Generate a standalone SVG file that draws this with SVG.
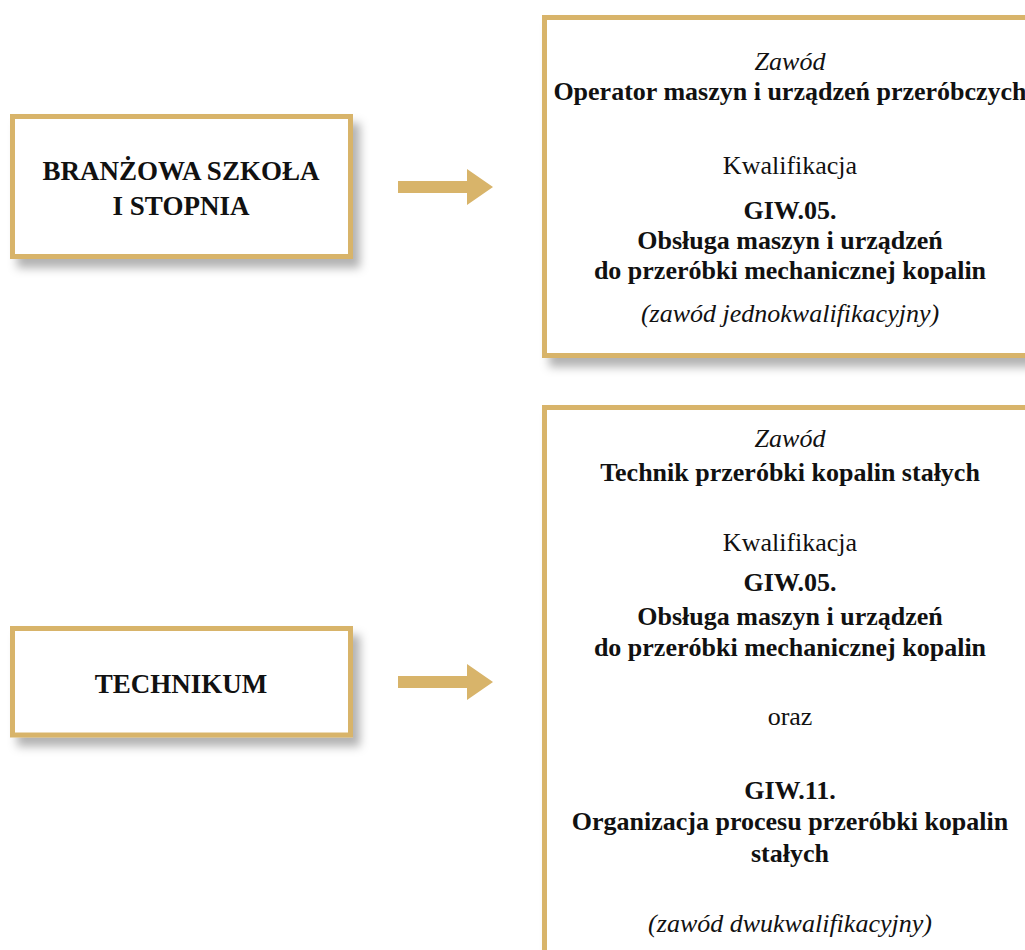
<svg xmlns="http://www.w3.org/2000/svg" width="1025" height="950" viewBox="0 0 1025 950">
<defs>
<filter id="sh" x="-10%" y="-10%" width="130%" height="140%">
<feDropShadow dx="7" dy="9" stdDeviation="5" flood-color="#000" flood-opacity="0.3"/>
</filter>
<style>
.box{fill:#fff;stroke:#D8B46A;stroke-width:5;filter:url(#sh)}
.arrow{fill:#D8B46A}
text{font-family:"Liberation Serif","Times New Roman",serif;fill:#111;text-anchor:middle}
.lt{font-size:27px;font-weight:bold}
.b{font-size:26px;font-weight:bold}
.r{font-size:26px}
.i{font-size:26px;font-style:italic}
</style>
</defs>
<g id="connectors">
<polygon class="arrow" points="398,181 467,181 467,169 493,187 467,205 467,193 398,193"/>
<polygon class="arrow" points="398,676 467,676 467,664 493,682 467,700 467,688 398,688"/>
</g>
<g id="node-branzowa">
<rect class="box" x="12.5" y="116.5" width="338" height="140"/>
<text class="lt" x="181" y="180">BRANŻOWA SZKOŁA</text>
<text class="lt" x="181" y="215">I STOPNIA</text>
</g>
<g id="node-technikum">
<rect class="box" x="12.5" y="628.5" width="338" height="106.5"/>
<text class="lt" x="181" y="693">TECHNIKUM</text>
</g>
<g id="node-operator">
<rect class="box" x="544.5" y="17.5" width="500" height="338"/>
<text class="i" x="790" y="70">Zawód</text>
<text class="b" x="790" y="100">Operator maszyn i urządzeń przeróbczych</text>
<text class="r" x="790" y="174">Kwalifikacja</text>
<text class="b" x="790" y="219">GIW.05.</text>
<text class="b" x="790" y="249">Obsługa maszyn i urządzeń</text>
<text class="b" x="790" y="279">do przeróbki mechanicznej kopalin</text>
<text class="i" x="790" y="322">(zawód jednokwalifikacyjny)</text>
</g>
<g id="node-technik">
<rect class="box" x="544.5" y="407.5" width="500" height="580"/>
<text class="i" x="790" y="447">Zawód</text>
<text class="b" x="790" y="481">Technik przeróbki kopalin stałych</text>
<text class="r" x="790" y="551">Kwalifikacja</text>
<text class="b" x="790" y="591">GIW.05.</text>
<text class="b" x="790" y="625">Obsługa maszyn i urządzeń</text>
<text class="b" x="790" y="656">do przeróbki mechanicznej kopalin</text>
<text class="r" x="790" y="725">oraz</text>
<text class="b" x="790" y="799">GIW.11.</text>
<text class="b" x="790" y="830">Organizacja procesu przeróbki kopalin</text>
<text class="b" x="790" y="862">stałych</text>
<text class="i" x="790" y="932">(zawód dwukwalifikacyjny)</text>
</g>
</svg>
